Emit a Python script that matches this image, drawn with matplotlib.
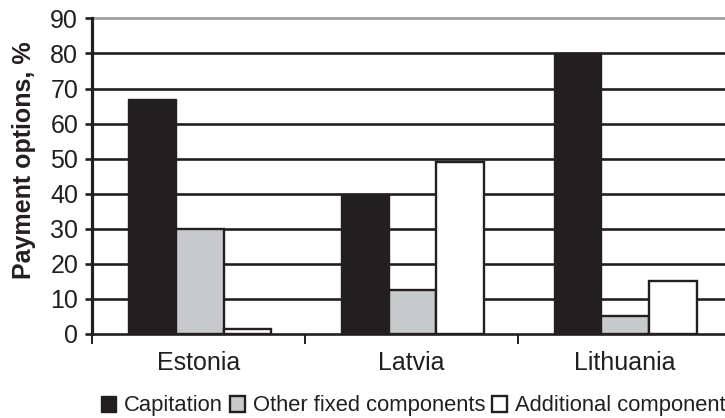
import numpy as np
import matplotlib.pyplot as plt

countries = ['Estonia', 'Latvia', 'Lithuania']
series_names = ['Capitation', 'Other fixed components', 'Additional components']
capitation = [67, 40, 80]
other_fixed = [30, 12.5, 5]
additional = [1.5, 49, 15]

plt.rcParams['font.family'] = ['Liberation Sans', 'DejaVu Sans']
dark = '#231f20'

fig = plt.figure(figsize=(7.25, 4.18), dpi=100)
ax = fig.add_axes([0.127, 0.201, 0.881, 0.755])

x = np.arange(len(countries))
w = 0.225
c = x + 0.505
ax.bar(c - w, capitation, w, color=dark, edgecolor=dark, linewidth=1.0, label=series_names[0])
ax.bar(c, other_fixed, w, color='#c8c9cb', edgecolor=dark, linewidth=1.7, label=series_names[1])
ax.bar(c + w, additional, w, color='white', edgecolor=dark, linewidth=1.7, label=series_names[2])

ax.set_xlim(0, 3)
ax.set_ylim(0, 90)
ax.set_yticks(range(0, 91, 10))
ax.grid(axis='y', color=dark, linewidth=1.9)
ax.set_axisbelow(True)
for gl in ax.get_ygridlines():
    gl.set_clip_on(False)
ax.get_ygridlines()[-1].set_color('#9a9a9a')

for s in ['top', 'right', 'bottom']:
    ax.spines[s].set_visible(False)
ax.spines['left'].set_color(dark)
ax.spines['left'].set_linewidth(2.3)

ax.tick_params(axis='y', direction='out', length=5, width=1.9, color=dark,
               labelsize=18, labelcolor=dark, pad=5)
# category boundaries as ticks, names in the middle
ax.set_xticks(np.arange(len(countries) + 1))
ax.set_xticklabels([])
ax.tick_params(axis='x', which='major', direction='out', length=7, width=1.4, color=dark)
ax.set_xticks(x + 0.5, countries, minor=True)
ax.tick_params(axis='x', which='minor', length=0, labelsize=18, labelcolor=dark, pad=12)

fig.text(24 / 725, 1 - 160 / 418, 'Payment options, %', rotation=90, fontweight='bold',
         fontsize=18, color=dark, ha='center', va='center')

fig.legend(loc='center left', bbox_to_anchor=(101 / 725, 12 / 418), ncol=3, frameon=False,
           fontsize=15.8, handlelength=0.7, handleheight=0.75, handletextpad=0.35,
           columnspacing=0.3, borderpad=0, borderaxespad=0, labelcolor=dark)

fig.savefig('out.png', dpi=100)
